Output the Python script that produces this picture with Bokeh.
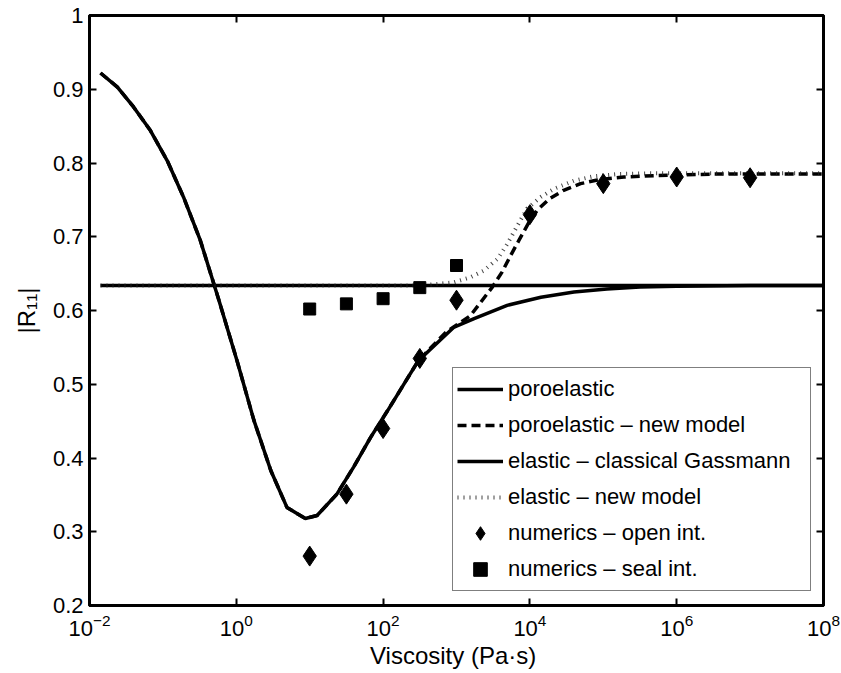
import numpy as np
from bokeh.plotting import figure
from bokeh.models import (Range1d, FixedTicker, LogAxis, LinearAxis, Legend)
from bokeh.embed import file_html
from bokeh.resources import INLINE

# ---- data (x as log10 viscosity in Pa·s) ----
poro_logx = [-1.85, -1.62, -1.40, -1.17, -0.94, -0.72, -0.49, -0.24, 0.01, 0.24,
             0.47, 0.69, 0.94, 1.10, 1.37, 1.60, 1.83, 2.06, 2.48, 2.96, 3.24,
             3.69, 4.15, 4.60, 5.05, 5.50, 6.00, 7.00, 8.00]
poro_y = [0.922, 0.903, 0.876, 0.844, 0.803, 0.754, 0.695, 0.615, 0.532, 0.451,
          0.383, 0.333, 0.318, 0.322, 0.351, 0.388, 0.428, 0.464, 0.532, 0.577, 0.589,
          0.607, 0.618, 0.625, 0.629, 0.632, 0.633, 0.634, 0.634]

poro_new_logx = [-1.85, -1.62, -1.40, -1.17, -0.94, -0.72, -0.49, -0.24, 0.01, 0.24,
                 0.47, 0.69, 0.94, 1.10, 1.37, 1.60, 1.83, 2.06, 2.48, 2.85, 3.19,
                 3.49, 3.62, 3.74, 3.85, 3.99, 4.10, 4.26, 4.46, 4.69, 4.92, 5.28,
                 5.73, 6.50, 8.00]
poro_new_y = [0.922, 0.903, 0.876, 0.844, 0.803, 0.754, 0.695, 0.615, 0.532, 0.451,
              0.383, 0.333, 0.318, 0.322, 0.351, 0.388, 0.428, 0.464, 0.532, 0.570, 0.593,
              0.632, 0.652, 0.675, 0.695, 0.720, 0.736, 0.751, 0.763, 0.772, 0.777, 0.781,
              0.783, 0.785, 0.785]

gass_logx = [-1.85, 8.00]
gass_y = [0.634, 0.634]

elas_new_logx = [-1.85, 2.50, 2.96, 3.19, 3.37, 3.56, 3.69, 3.83, 3.96, 4.15,
                 4.33, 4.60, 4.87, 5.20, 5.60, 8.00]
elas_new_y = [0.634, 0.634, 0.638, 0.645, 0.654, 0.670, 0.690, 0.715, 0.738, 0.754,
              0.765, 0.776, 0.782, 0.785, 0.786, 0.786]

open_logx = [1.0, 1.5, 2.0, 2.5, 3.0, 4.0, 5.0, 6.0, 7.0]
open_y = [0.267, 0.351, 0.440, 0.535, 0.614, 0.730, 0.772, 0.781, 0.780]

seal_logx = [1.0, 1.5, 2.0, 2.5, 3.0]
seal_y = [0.602, 0.609, 0.616, 0.631, 0.661]

x_ticks = [1e-2, 1e0, 1e2, 1e4, 1e6, 1e8]
y_ticks = [0.2, 0.3, 0.4, 0.5, 0.6, 0.7, 0.8, 0.9, 1.0]

FONT = "Liberation Sans"

def pw(lx):
    return [10.0 ** v for v in lx]

p = figure(width=841, height=673, x_axis_type="log",
           x_range=Range1d(1e-2, 1e8), y_range=Range1d(0.2, 1.0),
           output_backend="svg", toolbar_location=None,
           min_border_left=89, min_border_right=18,
           min_border_top=15, min_border_bottom=68)
p.background_fill_color = "white"
p.border_fill_color = "white"
p.outline_line_color = "black"
p.outline_line_width = 3
p.xgrid.visible = False
p.ygrid.visible = False

r1 = p.line(pw(poro_logx), poro_y, line_color="black", line_width=3.5)
r2 = p.line(pw(poro_new_logx), poro_new_y, line_color="black", line_width=3.5,
            line_dash="9 5")
r3 = p.line(pw(gass_logx), gass_y, line_color="black", line_width=3.5)
r4 = p.line(pw(elas_new_logx), elas_new_y, line_color="#222222", line_width=4,
            line_dash="1 5", line_alpha=0.85)
r5 = p.scatter(pw(open_logx), open_y, marker="diamond", size=20,
               fill_color="black", line_color="black")
r6 = p.scatter(pw(seal_logx), seal_y, marker="square", size=12,
               fill_color="black", line_color="black")

for ax in (p.xaxis[0], p.yaxis[0]):
    ax.axis_line_width = 3
    ax.axis_line_color = "black"
    ax.major_tick_in = 7
    ax.major_tick_out = 0
    ax.major_tick_line_width = 2
    ax.minor_tick_in = 0
    ax.minor_tick_out = 0
    ax.major_label_text_font = FONT
    ax.major_label_text_font_size = "22px"
    ax.major_label_text_color = "black"
    ax.axis_label_text_font = FONT
    ax.axis_label_text_font_size = "24px"
    ax.axis_label_text_font_style = "normal"
    ax.axis_label_text_color = "black"

p.xaxis.ticker = FixedTicker(ticks=x_ticks, minor_ticks=[])
p.yaxis.ticker = FixedTicker(ticks=y_ticks, minor_ticks=[])
p.xaxis.major_label_standoff = 8
p.yaxis.major_label_standoff = 6
p.xaxis.axis_label = "Viscosity  (Pa·s)"
p.xaxis.axis_label_standoff = 3
p.yaxis.axis_label = "|R₁₁|"
p.yaxis.axis_label_standoff = 10

top = LogAxis(ticker=FixedTicker(ticks=x_ticks, minor_ticks=[]))
right = LinearAxis(ticker=FixedTicker(ticks=y_ticks, minor_ticks=[]))
for ax in (top, right):
    ax.axis_line_width = 3
    ax.axis_line_color = "black"
    ax.major_tick_in = 7
    ax.major_tick_out = 0
    ax.major_tick_line_width = 2
    ax.minor_tick_in = 0
    ax.minor_tick_out = 0
    ax.major_label_text_font_size = "1px"
    ax.major_label_text_alpha = 0
    ax.major_label_standoff = 0
p.add_layout(top, "above")
p.add_layout(right, "right")

legend = Legend(items=[
    ("poroelastic", [r1]),
    ("poroelastic – new model", [r2]),
    ("elastic – classical Gassmann", [r3]),
    ("elastic – new model", [r4]),
    ("numerics – open int.", [r5]),
    ("numerics – seal int.", [r6]),
], location=(363, 14))
legend.label_text_font = FONT
legend.label_text_font_size = "22px"
legend.label_text_color = "black"
legend.glyph_width = 46
legend.glyph_height = 34
legend.label_height = 34
legend.label_width = 298
legend.spacing = 2
legend.padding = 4
legend.margin = 0
legend.label_standoff = 5
legend.border_line_color = "black"
legend.border_line_width = 1
legend.background_fill_color = "white"
legend.background_fill_alpha = 1
p.add_layout(legend)

open("out.html", "w").write(file_html(p, INLINE))
